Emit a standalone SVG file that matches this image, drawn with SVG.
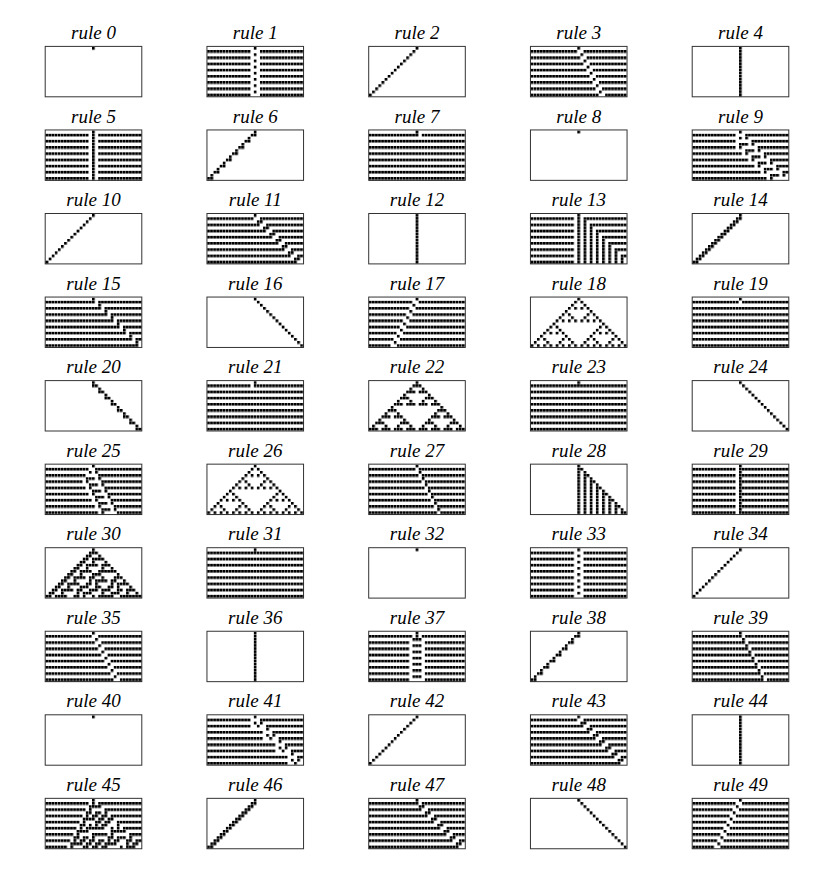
<svg xmlns="http://www.w3.org/2000/svg" width="834" height="869" viewBox="0 0 834 869">
<style>
.lbl{font-family:"Liberation Serif","Times New Roman",serif;font-style:italic;font-size:19px;text-anchor:middle;fill:#000}
.frame{fill:none;stroke:#333;stroke-width:1}
.cells{fill:url(#cell)}
</style>
<defs>
<pattern id="cell" width="1" height="1" patternUnits="userSpaceOnUse"><rect width="0.88" height="0.88" fill="#000"/></pattern>
<path id="p0" class="cells" d="M15 0h1v1h-1z"/>
<path id="p1" class="cells" d="M15 0h1v1h-1zM0 1h14v1h-14zM17 1h14v1h-14zM15 2h1v1h-1zM0 3h14v1h-14zM17 3h14v1h-14zM15 4h1v1h-1zM0 5h14v1h-14zM17 5h14v1h-14zM15 6h1v1h-1zM0 7h14v1h-14zM17 7h14v1h-14zM15 8h1v1h-1zM0 9h14v1h-14zM17 9h14v1h-14zM15 10h1v1h-1zM0 11h14v1h-14zM17 11h14v1h-14zM15 12h1v1h-1zM0 13h14v1h-14zM17 13h14v1h-14zM15 14h1v1h-1zM0 15h14v1h-14zM17 15h14v1h-14z"/>
<path id="p2" class="cells" d="M15 0h1v1h-1zM14 1h1v1h-1zM13 2h1v1h-1zM12 3h1v1h-1zM11 4h1v1h-1zM10 5h1v1h-1zM9 6h1v1h-1zM8 7h1v1h-1zM7 8h1v1h-1zM6 9h1v1h-1zM5 10h1v1h-1zM4 11h1v1h-1zM3 12h1v1h-1zM2 13h1v1h-1zM1 14h1v1h-1zM0 15h1v1h-1z"/>
<path id="p3" class="cells" d="M15 0h1v1h-1zM0 1h15v1h-15zM17 1h14v1h-14zM16 2h1v1h-1zM0 3h16v1h-16zM18 3h13v1h-13zM17 4h1v1h-1zM0 5h17v1h-17zM19 5h12v1h-12zM18 6h1v1h-1zM0 7h18v1h-18zM20 7h11v1h-11zM19 8h1v1h-1zM0 9h19v1h-19zM21 9h10v1h-10zM20 10h1v1h-1zM0 11h20v1h-20zM22 11h9v1h-9zM21 12h1v1h-1zM0 13h21v1h-21zM23 13h8v1h-8zM22 14h1v1h-1zM0 15h22v1h-22zM24 15h7v1h-7z"/>
<path id="p4" class="cells" d="M15 0h1v16h-1z"/>
<path id="p5" class="cells" d="M15 0h1v16h-1zM0 1h14v1h-14zM17 1h14v1h-14zM0 3h14v1h-14zM17 3h14v1h-14zM0 5h14v1h-14zM17 5h14v1h-14zM0 7h14v1h-14zM17 7h14v1h-14zM0 9h14v1h-14zM17 9h14v1h-14zM0 11h14v1h-14zM17 11h14v1h-14zM0 13h14v1h-14zM17 13h14v1h-14zM0 15h14v1h-14zM17 15h14v1h-14z"/>
<path id="p6" class="cells" d="M15 0h1v1h-1zM14 1h2v1h-2zM13 2h1v1h-1zM12 3h2v1h-2zM11 4h1v1h-1zM10 5h2v1h-2zM9 6h1v1h-1zM8 7h2v1h-2zM7 8h1v1h-1zM6 9h2v1h-2zM5 10h1v1h-1zM4 11h2v1h-2zM3 12h1v1h-1zM2 13h2v1h-2zM1 14h1v1h-1zM0 15h2v1h-2z"/>
<path id="p7" class="cells" d="M15 0h1v1h-1zM0 1h16v1h-16zM17 1h14v1h-14zM0 3h31v1h-31zM0 5h31v1h-31zM0 7h31v1h-31zM0 9h31v1h-31zM0 11h31v1h-31zM0 13h31v1h-31zM0 15h31v1h-31z"/>
<path id="p9" class="cells" d="M15 0h1v1h-1zM0 1h14v1h-14zM17 1h14v1h-14zM15 2h1v1h-1zM17 2h1v1h-1zM0 3h14v1h-14zM19 3h12v1h-12zM15 4h3v1h-3zM19 4h1v1h-1zM0 5h14v1h-14zM15 5h1v1h-1zM21 5h10v1h-10zM17 6h3v1h-3zM21 6h1v1h-1zM0 7h16v1h-16zM17 7h1v1h-1zM23 7h8v1h-8zM19 8h3v1h-3zM23 8h1v1h-1zM0 9h18v1h-18zM19 9h1v1h-1zM25 9h6v1h-6zM21 10h3v1h-3zM25 10h1v1h-1zM0 11h20v1h-20zM21 11h1v1h-1zM27 11h4v1h-4zM23 12h3v1h-3zM27 12h1v1h-1zM0 13h22v1h-22zM23 13h1v1h-1zM29 13h2v1h-2zM25 14h3v1h-3zM29 14h1v1h-1zM0 15h24v1h-24zM25 15h1v1h-1z"/>
<path id="p11" class="cells" d="M15 0h1v1h-1zM0 1h15v1h-15zM17 1h14v1h-14zM16 2h2v1h-2zM0 3h17v1h-17zM19 3h12v1h-12zM18 4h2v1h-2zM0 5h19v1h-19zM21 5h10v1h-10zM20 6h2v1h-2zM0 7h21v1h-21zM23 7h8v1h-8zM22 8h2v1h-2zM0 9h23v1h-23zM25 9h6v1h-6zM24 10h2v1h-2zM0 11h25v1h-25zM27 11h4v1h-4zM26 12h2v1h-2zM0 13h27v1h-27zM29 13h2v1h-2zM28 14h2v1h-2zM0 15h29v1h-29z"/>
<path id="p13" class="cells" d="M15 0h1v16h-1zM17 1h1v15h-1zM19 3h1v13h-1zM21 5h1v11h-1zM23 7h1v9h-1zM25 9h1v7h-1zM27 11h1v5h-1zM29 13h1v3h-1zM0 1h14v1h-14zM17 1h14v1h-14zM0 3h14v1h-14zM19 3h12v1h-12zM0 5h14v1h-14zM21 5h10v1h-10zM0 7h14v1h-14zM23 7h8v1h-8zM0 9h14v1h-14zM25 9h6v1h-6zM0 11h14v1h-14zM27 11h4v1h-4zM0 13h14v1h-14zM29 13h2v1h-2zM0 15h14v1h-14z"/>
<path id="p14" class="cells" d="M15 0h1v1h-1zM14 1h2v1h-2zM13 2h2v1h-2zM12 3h2v1h-2zM11 4h2v1h-2zM10 5h2v1h-2zM9 6h2v1h-2zM8 7h2v1h-2zM7 8h2v1h-2zM6 9h2v1h-2zM5 10h2v1h-2zM4 11h2v1h-2zM3 12h2v1h-2zM2 13h2v1h-2zM1 14h2v1h-2zM0 15h2v1h-2z"/>
<path id="p15" class="cells" d="M15 0h1v1h-1zM0 1h16v1h-16zM17 1h14v1h-14zM17 2h1v1h-1zM0 3h18v1h-18zM19 3h12v1h-12zM19 4h1v1h-1zM0 5h20v1h-20zM21 5h10v1h-10zM21 6h1v1h-1zM0 7h22v1h-22zM23 7h8v1h-8zM23 8h1v1h-1zM0 9h24v1h-24zM25 9h6v1h-6zM25 10h1v1h-1zM0 11h26v1h-26zM27 11h4v1h-4zM27 12h1v1h-1zM0 13h28v1h-28zM29 13h2v1h-2zM29 14h1v1h-1zM0 15h30v1h-30z"/>
<path id="p16" class="cells" d="M15 0h1v1h-1zM16 1h1v1h-1zM17 2h1v1h-1zM18 3h1v1h-1zM19 4h1v1h-1zM20 5h1v1h-1zM21 6h1v1h-1zM22 7h1v1h-1zM23 8h1v1h-1zM24 9h1v1h-1zM25 10h1v1h-1zM26 11h1v1h-1zM27 12h1v1h-1zM28 13h1v1h-1zM29 14h1v1h-1zM30 15h1v1h-1z"/>
<path id="p17" class="cells" d="M15 0h1v1h-1zM0 1h14v1h-14zM16 1h15v1h-15zM14 2h1v1h-1zM0 3h13v1h-13zM15 3h16v1h-16zM13 4h1v1h-1zM0 5h12v1h-12zM14 5h17v1h-17zM12 6h1v1h-1zM0 7h11v1h-11zM13 7h18v1h-18zM11 8h1v1h-1zM0 9h10v1h-10zM12 9h19v1h-19zM10 10h1v1h-1zM0 11h9v1h-9zM11 11h20v1h-20zM9 12h1v1h-1zM0 13h8v1h-8zM10 13h21v1h-21zM8 14h1v1h-1zM0 15h7v1h-7zM9 15h22v1h-22z"/>
<path id="p18" class="cells" d="M15 0h1v1h-1zM14 1h1v1h-1zM16 1h1v1h-1zM13 2h1v1h-1zM17 2h1v1h-1zM12 3h1v1h-1zM14 3h1v1h-1zM16 3h1v1h-1zM18 3h1v1h-1zM11 4h1v1h-1zM19 4h1v1h-1zM10 5h1v1h-1zM12 5h1v1h-1zM18 5h1v1h-1zM20 5h1v1h-1zM9 6h1v1h-1zM13 6h1v1h-1zM17 6h1v1h-1zM21 6h1v1h-1zM8 7h1v1h-1zM10 7h1v1h-1zM12 7h1v1h-1zM14 7h1v1h-1zM16 7h1v1h-1zM18 7h1v1h-1zM20 7h1v1h-1zM22 7h1v1h-1zM7 8h1v1h-1zM23 8h1v1h-1zM6 9h1v1h-1zM8 9h1v1h-1zM22 9h1v1h-1zM24 9h1v1h-1zM5 10h1v1h-1zM9 10h1v1h-1zM21 10h1v1h-1zM25 10h1v1h-1zM4 11h1v1h-1zM6 11h1v1h-1zM8 11h1v1h-1zM10 11h1v1h-1zM20 11h1v1h-1zM22 11h1v1h-1zM24 11h1v1h-1zM26 11h1v1h-1zM3 12h1v1h-1zM11 12h1v1h-1zM19 12h1v1h-1zM27 12h1v1h-1zM2 13h1v1h-1zM4 13h1v1h-1zM10 13h1v1h-1zM12 13h1v1h-1zM18 13h1v1h-1zM20 13h1v1h-1zM26 13h1v1h-1zM28 13h1v1h-1zM1 14h1v1h-1zM5 14h1v1h-1zM9 14h1v1h-1zM13 14h1v1h-1zM17 14h1v1h-1zM21 14h1v1h-1zM25 14h1v1h-1zM29 14h1v1h-1zM0 15h1v1h-1zM2 15h1v1h-1zM4 15h1v1h-1zM6 15h1v1h-1zM8 15h1v1h-1zM10 15h1v1h-1zM12 15h1v1h-1zM14 15h1v1h-1zM16 15h1v1h-1zM18 15h1v1h-1zM20 15h1v1h-1zM22 15h1v1h-1zM24 15h1v1h-1zM26 15h1v1h-1zM28 15h1v1h-1zM30 15h1v1h-1z"/>
<path id="p19" class="cells" d="M15 0h1v1h-1zM0 1h15v1h-15zM16 1h15v1h-15zM0 3h31v1h-31zM0 5h31v1h-31zM0 7h31v1h-31zM0 9h31v1h-31zM0 11h31v1h-31zM0 13h31v1h-31zM0 15h31v1h-31z"/>
<path id="p20" class="cells" d="M15 0h1v1h-1zM15 1h2v1h-2zM17 2h1v1h-1zM17 3h2v1h-2zM19 4h1v1h-1zM19 5h2v1h-2zM21 6h1v1h-1zM21 7h2v1h-2zM23 8h1v1h-1zM23 9h2v1h-2zM25 10h1v1h-1zM25 11h2v1h-2zM27 12h1v1h-1zM27 13h2v1h-2zM29 14h1v1h-1zM29 15h2v1h-2z"/>
<path id="p21" class="cells" d="M15 0h1v1h-1zM0 1h14v1h-14zM15 1h16v1h-16zM0 3h31v1h-31zM0 5h31v1h-31zM0 7h31v1h-31zM0 9h31v1h-31zM0 11h31v1h-31zM0 13h31v1h-31zM0 15h31v1h-31z"/>
<path id="p22" class="cells" d="M15 0h1v1h-1zM14 1h3v1h-3zM13 2h1v1h-1zM17 2h1v1h-1zM12 3h3v1h-3zM16 3h3v1h-3zM11 4h1v1h-1zM19 4h1v1h-1zM10 5h3v1h-3zM18 5h3v1h-3zM9 6h1v1h-1zM13 6h1v1h-1zM17 6h1v1h-1zM21 6h1v1h-1zM8 7h3v1h-3zM12 7h3v1h-3zM16 7h3v1h-3zM20 7h3v1h-3zM7 8h1v1h-1zM23 8h1v1h-1zM6 9h3v1h-3zM22 9h3v1h-3zM5 10h1v1h-1zM9 10h1v1h-1zM21 10h1v1h-1zM25 10h1v1h-1zM4 11h3v1h-3zM8 11h3v1h-3zM20 11h3v1h-3zM24 11h3v1h-3zM3 12h1v1h-1zM11 12h1v1h-1zM19 12h1v1h-1zM27 12h1v1h-1zM2 13h3v1h-3zM10 13h3v1h-3zM18 13h3v1h-3zM26 13h3v1h-3zM1 14h1v1h-1zM5 14h1v1h-1zM9 14h1v1h-1zM13 14h1v1h-1zM17 14h1v1h-1zM21 14h1v1h-1zM25 14h1v1h-1zM29 14h1v1h-1zM0 15h3v1h-3zM4 15h3v1h-3zM8 15h3v1h-3zM12 15h3v1h-3zM16 15h3v1h-3zM20 15h3v1h-3zM24 15h3v1h-3zM28 15h3v1h-3z"/>
<path id="p23" class="cells" d="M15 0h1v1h-1zM0 1h31v1h-31zM0 3h31v1h-31zM0 5h31v1h-31zM0 7h31v1h-31zM0 9h31v1h-31zM0 11h31v1h-31zM0 13h31v1h-31zM0 15h31v1h-31z"/>
<path id="p25" class="cells" d="M15 0h1v1h-1zM0 1h14v1h-14zM16 1h15v1h-15zM14 2h1v1h-1zM16 2h1v1h-1zM0 3h13v1h-13zM17 3h14v1h-14zM13 4h3v1h-3zM17 4h1v1h-1zM0 5h12v1h-12zM13 5h1v1h-1zM18 5h13v1h-13zM14 6h3v1h-3zM18 6h1v1h-1zM0 7h13v1h-13zM14 7h1v1h-1zM19 7h12v1h-12zM15 8h3v1h-3zM19 8h1v1h-1zM0 9h14v1h-14zM15 9h1v1h-1zM20 9h11v1h-11zM16 10h3v1h-3zM20 10h1v1h-1zM0 11h15v1h-15zM16 11h1v1h-1zM21 11h10v1h-10zM17 12h3v1h-3zM21 12h1v1h-1zM0 13h16v1h-16zM17 13h1v1h-1zM22 13h9v1h-9zM18 14h3v1h-3zM22 14h1v1h-1zM0 15h17v1h-17zM18 15h1v1h-1zM23 15h8v1h-8z"/>
<path id="p27" class="cells" d="M15 0h1v1h-1zM0 1h15v1h-15zM16 1h15v1h-15zM16 2h1v1h-1zM0 3h16v1h-16zM17 3h14v1h-14zM17 4h1v1h-1zM0 5h17v1h-17zM18 5h13v1h-13zM18 6h1v1h-1zM0 7h18v1h-18zM19 7h12v1h-12zM19 8h1v1h-1zM0 9h19v1h-19zM20 9h11v1h-11zM20 10h1v1h-1zM0 11h20v1h-20zM21 11h10v1h-10zM21 12h1v1h-1zM0 13h21v1h-21zM22 13h9v1h-9zM22 14h1v1h-1zM0 15h22v1h-22zM23 15h8v1h-8z"/>
<path id="p28" class="cells" d="M15 0h1v16h-1zM17 2h1v14h-1zM19 4h1v12h-1zM21 6h1v10h-1zM23 8h1v8h-1zM25 10h1v6h-1zM27 12h1v4h-1zM29 14h1v2h-1zM16 1h1v1h-1zM18 3h1v1h-1zM20 5h1v1h-1zM22 7h1v1h-1zM24 9h1v1h-1zM26 11h1v1h-1zM28 13h1v1h-1zM30 15h1v1h-1z"/>
<path id="p29" class="cells" d="M15 0h1v16h-1zM0 1h14v1h-14zM16 1h15v1h-15zM0 3h14v1h-14zM16 3h15v1h-15zM0 5h14v1h-14zM16 5h15v1h-15zM0 7h14v1h-14zM16 7h15v1h-15zM0 9h14v1h-14zM16 9h15v1h-15zM0 11h14v1h-14zM16 11h15v1h-15zM0 13h14v1h-14zM16 13h15v1h-15zM0 15h14v1h-14zM16 15h15v1h-15z"/>
<path id="p30" class="cells" d="M15 0h1v1h-1zM14 1h3v1h-3zM13 2h2v1h-2zM17 2h1v1h-1zM12 3h2v1h-2zM15 3h4v1h-4zM11 4h2v1h-2zM15 4h1v1h-1zM19 4h1v1h-1zM10 5h2v1h-2zM13 5h4v1h-4zM18 5h3v1h-3zM9 6h2v1h-2zM13 6h1v1h-1zM18 6h1v1h-1zM21 6h1v1h-1zM8 7h2v1h-2zM11 7h4v1h-4zM17 7h6v1h-6zM7 8h2v1h-2zM11 8h1v1h-1zM15 8h3v1h-3zM23 8h1v1h-1zM6 9h2v1h-2zM9 9h4v1h-4zM14 9h2v1h-2zM18 9h1v1h-1zM22 9h3v1h-3zM5 10h2v1h-2zM9 10h1v1h-1zM14 10h1v1h-1zM16 10h4v1h-4zM21 10h2v1h-2zM25 10h1v1h-1zM4 11h2v1h-2zM7 11h4v1h-4zM13 11h2v1h-2zM16 11h1v1h-1zM21 11h1v1h-1zM23 11h4v1h-4zM3 12h2v1h-2zM7 12h1v1h-1zM11 12h3v1h-3zM16 12h2v1h-2zM20 12h2v1h-2zM23 12h1v1h-1zM27 12h1v1h-1zM2 13h2v1h-2zM5 13h4v1h-4zM10 13h2v1h-2zM14 13h3v1h-3zM18 13h3v1h-3zM23 13h2v1h-2zM26 13h3v1h-3zM1 14h2v1h-2zM5 14h1v1h-1zM10 14h1v1h-1zM12 14h3v1h-3zM18 14h1v1h-1zM21 14h3v1h-3zM26 14h1v1h-1zM29 14h1v1h-1zM0 15h2v1h-2zM3 15h4v1h-4zM9 15h2v1h-2zM12 15h1v1h-1zM15 15h1v1h-1zM17 15h5v1h-5zM24 15h7v1h-7z"/>
<path id="p37" class="cells" d="M15 0h1v1h-1zM0 1h14v1h-14zM15 1h1v1h-1zM17 1h14v1h-14zM14 2h3v1h-3zM0 3h13v1h-13zM18 3h13v1h-13zM14 4h3v1h-3zM0 5h13v1h-13zM18 5h13v1h-13zM14 6h3v1h-3zM0 7h13v1h-13zM18 7h13v1h-13zM14 8h3v1h-3zM0 9h13v1h-13zM18 9h13v1h-13zM14 10h3v1h-3zM0 11h13v1h-13zM18 11h13v1h-13zM14 12h3v1h-3zM0 13h13v1h-13zM18 13h13v1h-13zM14 14h3v1h-3zM0 15h13v1h-13zM18 15h13v1h-13z"/>
<path id="p39" class="cells" d="M15 0h1v1h-1zM0 1h16v1h-16zM17 1h14v1h-14zM16 2h1v1h-1zM0 3h17v1h-17zM18 3h13v1h-13zM17 4h1v1h-1zM0 5h18v1h-18zM19 5h12v1h-12zM18 6h1v1h-1zM0 7h19v1h-19zM20 7h11v1h-11zM19 8h1v1h-1zM0 9h20v1h-20zM21 9h10v1h-10zM20 10h1v1h-1zM0 11h21v1h-21zM22 11h9v1h-9zM21 12h1v1h-1zM0 13h22v1h-22zM23 13h8v1h-8zM22 14h1v1h-1zM0 15h23v1h-23zM24 15h7v1h-7z"/>
<path id="p41" class="cells" d="M15 0h1v1h-1zM0 1h14v1h-14zM17 1h14v1h-14zM15 2h1v1h-1zM17 2h1v1h-1zM0 3h14v1h-14zM16 3h1v1h-1zM19 3h12v1h-12zM19 4h1v1h-1zM0 5h18v1h-18zM21 5h10v1h-10zM19 6h1v1h-1zM21 6h1v1h-1zM0 7h18v1h-18zM20 7h1v1h-1zM23 7h8v1h-8zM23 8h1v1h-1zM0 9h22v1h-22zM25 9h6v1h-6zM23 10h1v1h-1zM25 10h1v1h-1zM0 11h22v1h-22zM24 11h1v1h-1zM27 11h4v1h-4zM27 12h1v1h-1zM0 13h26v1h-26zM29 13h2v1h-2zM27 14h1v1h-1zM29 14h1v1h-1zM0 15h26v1h-26zM28 15h1v1h-1z"/>
<path id="p45" class="cells" d="M15 0h1v1h-1zM0 1h14v1h-14zM15 1h1v1h-1zM17 1h14v1h-14zM14 2h4v1h-4zM0 3h13v1h-13zM14 3h1v1h-1zM19 3h12v1h-12zM13 4h2v1h-2zM16 4h2v1h-2zM19 4h1v1h-1zM0 5h12v1h-12zM13 5h1v1h-1zM15 5h2v1h-2zM18 5h2v1h-2zM21 5h10v1h-10zM12 6h4v1h-4zM17 6h2v1h-2zM20 6h2v1h-2zM0 7h11v1h-11zM12 7h1v1h-1zM16 7h2v1h-2zM19 7h2v1h-2zM23 7h8v1h-8zM11 8h2v1h-2zM14 8h1v1h-1zM16 8h1v1h-1zM18 8h2v1h-2zM23 8h1v1h-1zM0 9h10v1h-10zM11 9h1v1h-1zM13 9h6v1h-6zM21 9h1v1h-1zM23 9h1v1h-1zM25 9h6v1h-6zM10 10h4v1h-4zM21 10h5v1h-5zM0 11h9v1h-9zM10 11h1v1h-1zM15 11h5v1h-5zM21 11h1v1h-1zM27 11h4v1h-4zM9 12h2v1h-2zM12 12h2v1h-2zM15 12h1v1h-1zM20 12h2v1h-2zM23 12h3v1h-3zM27 12h1v1h-1zM0 13h8v1h-8zM9 13h1v1h-1zM11 13h2v1h-2zM14 13h2v1h-2zM17 13h2v1h-2zM20 13h1v1h-1zM22 13h2v1h-2zM26 13h2v1h-2zM29 13h2v1h-2zM8 14h4v1h-4zM13 14h2v1h-2zM16 14h2v1h-2zM19 14h4v1h-4zM26 14h1v1h-1zM28 14h2v1h-2zM0 15h7v1h-7zM8 15h1v1h-1zM12 15h2v1h-2zM15 15h2v1h-2zM18 15h2v1h-2zM24 15h1v1h-1zM26 15h3v1h-3z"/>
<path id="p47" class="cells" d="M15 0h1v1h-1zM0 1h16v1h-16zM17 1h14v1h-14zM16 2h2v1h-2zM0 3h17v1h-17zM19 3h12v1h-12zM18 4h2v1h-2zM0 5h19v1h-19zM21 5h10v1h-10zM20 6h2v1h-2zM0 7h21v1h-21zM23 7h8v1h-8zM22 8h2v1h-2zM0 9h23v1h-23zM25 9h6v1h-6zM24 10h2v1h-2zM0 11h25v1h-25zM27 11h4v1h-4zM26 12h2v1h-2zM0 13h27v1h-27zM29 13h2v1h-2zM28 14h2v1h-2zM0 15h29v1h-29z"/>
<rect id="fr" class="frame" x="-0.3" y="-0.6" width="96.6" height="50.4"/>
</defs>
<g id="connectors"/>
<g id="rule-0" transform="translate(45.5,47)"><text class="lbl" x="48" y="-8">rule 0</text><use href="#fr"/><use href="#p0" transform="scale(3.1)"/></g>
<g id="rule-1" transform="translate(207.25,47)"><text class="lbl" x="48" y="-8">rule 1</text><use href="#fr"/><use href="#p1" transform="scale(3.1)"/></g>
<g id="rule-2" transform="translate(369,47)"><text class="lbl" x="48" y="-8">rule 2</text><use href="#fr"/><use href="#p2" transform="scale(3.1)"/></g>
<g id="rule-3" transform="translate(530.75,47)"><text class="lbl" x="48" y="-8">rule 3</text><use href="#fr"/><use href="#p3" transform="scale(3.1)"/></g>
<g id="rule-4" transform="translate(692.5,47)"><text class="lbl" x="48" y="-8">rule 4</text><use href="#fr"/><use href="#p4" transform="scale(3.1)"/></g>
<g id="rule-5" transform="translate(45.5,130.55)"><text class="lbl" x="48" y="-8">rule 5</text><use href="#fr"/><use href="#p5" transform="scale(3.1)"/></g>
<g id="rule-6" transform="translate(207.25,130.55)"><text class="lbl" x="48" y="-8">rule 6</text><use href="#fr"/><use href="#p6" transform="scale(3.1)"/></g>
<g id="rule-7" transform="translate(369,130.55)"><text class="lbl" x="48" y="-8">rule 7</text><use href="#fr"/><use href="#p7" transform="scale(3.1)"/></g>
<g id="rule-8" transform="translate(530.75,130.55)"><text class="lbl" x="48" y="-8">rule 8</text><use href="#fr"/><use href="#p0" transform="scale(3.1)"/></g>
<g id="rule-9" transform="translate(692.5,130.55)"><text class="lbl" x="48" y="-8">rule 9</text><use href="#fr"/><use href="#p9" transform="scale(3.1)"/></g>
<g id="rule-10" transform="translate(45.5,214.1)"><text class="lbl" x="48" y="-8">rule 10</text><use href="#fr"/><use href="#p2" transform="scale(3.1)"/></g>
<g id="rule-11" transform="translate(207.25,214.1)"><text class="lbl" x="48" y="-8">rule 11</text><use href="#fr"/><use href="#p11" transform="scale(3.1)"/></g>
<g id="rule-12" transform="translate(369,214.1)"><text class="lbl" x="48" y="-8">rule 12</text><use href="#fr"/><use href="#p4" transform="scale(3.1)"/></g>
<g id="rule-13" transform="translate(530.75,214.1)"><text class="lbl" x="48" y="-8">rule 13</text><use href="#fr"/><use href="#p13" transform="scale(3.1)"/></g>
<g id="rule-14" transform="translate(692.5,214.1)"><text class="lbl" x="48" y="-8">rule 14</text><use href="#fr"/><use href="#p14" transform="scale(3.1)"/></g>
<g id="rule-15" transform="translate(45.5,297.65)"><text class="lbl" x="48" y="-8">rule 15</text><use href="#fr"/><use href="#p15" transform="scale(3.1)"/></g>
<g id="rule-16" transform="translate(207.25,297.65)"><text class="lbl" x="48" y="-8">rule 16</text><use href="#fr"/><use href="#p16" transform="scale(3.1)"/></g>
<g id="rule-17" transform="translate(369,297.65)"><text class="lbl" x="48" y="-8">rule 17</text><use href="#fr"/><use href="#p17" transform="scale(3.1)"/></g>
<g id="rule-18" transform="translate(530.75,297.65)"><text class="lbl" x="48" y="-8">rule 18</text><use href="#fr"/><use href="#p18" transform="scale(3.1)"/></g>
<g id="rule-19" transform="translate(692.5,297.65)"><text class="lbl" x="48" y="-8">rule 19</text><use href="#fr"/><use href="#p19" transform="scale(3.1)"/></g>
<g id="rule-20" transform="translate(45.5,381.2)"><text class="lbl" x="48" y="-8">rule 20</text><use href="#fr"/><use href="#p20" transform="scale(3.1)"/></g>
<g id="rule-21" transform="translate(207.25,381.2)"><text class="lbl" x="48" y="-8">rule 21</text><use href="#fr"/><use href="#p21" transform="scale(3.1)"/></g>
<g id="rule-22" transform="translate(369,381.2)"><text class="lbl" x="48" y="-8">rule 22</text><use href="#fr"/><use href="#p22" transform="scale(3.1)"/></g>
<g id="rule-23" transform="translate(530.75,381.2)"><text class="lbl" x="48" y="-8">rule 23</text><use href="#fr"/><use href="#p23" transform="scale(3.1)"/></g>
<g id="rule-24" transform="translate(692.5,381.2)"><text class="lbl" x="48" y="-8">rule 24</text><use href="#fr"/><use href="#p16" transform="scale(3.1)"/></g>
<g id="rule-25" transform="translate(45.5,464.75)"><text class="lbl" x="48" y="-8">rule 25</text><use href="#fr"/><use href="#p25" transform="scale(3.1)"/></g>
<g id="rule-26" transform="translate(207.25,464.75)"><text class="lbl" x="48" y="-8">rule 26</text><use href="#fr"/><use href="#p18" transform="scale(3.1)"/></g>
<g id="rule-27" transform="translate(369,464.75)"><text class="lbl" x="48" y="-8">rule 27</text><use href="#fr"/><use href="#p27" transform="scale(3.1)"/></g>
<g id="rule-28" transform="translate(530.75,464.75)"><text class="lbl" x="48" y="-8">rule 28</text><use href="#fr"/><use href="#p28" transform="scale(3.1)"/></g>
<g id="rule-29" transform="translate(692.5,464.75)"><text class="lbl" x="48" y="-8">rule 29</text><use href="#fr"/><use href="#p29" transform="scale(3.1)"/></g>
<g id="rule-30" transform="translate(45.5,548.3)"><text class="lbl" x="48" y="-8">rule 30</text><use href="#fr"/><use href="#p30" transform="scale(3.1)"/></g>
<g id="rule-31" transform="translate(207.25,548.3)"><text class="lbl" x="48" y="-8">rule 31</text><use href="#fr"/><use href="#p23" transform="scale(3.1)"/></g>
<g id="rule-32" transform="translate(369,548.3)"><text class="lbl" x="48" y="-8">rule 32</text><use href="#fr"/><use href="#p0" transform="scale(3.1)"/></g>
<g id="rule-33" transform="translate(530.75,548.3)"><text class="lbl" x="48" y="-8">rule 33</text><use href="#fr"/><use href="#p1" transform="scale(3.1)"/></g>
<g id="rule-34" transform="translate(692.5,548.3)"><text class="lbl" x="48" y="-8">rule 34</text><use href="#fr"/><use href="#p2" transform="scale(3.1)"/></g>
<g id="rule-35" transform="translate(45.5,631.85)"><text class="lbl" x="48" y="-8">rule 35</text><use href="#fr"/><use href="#p3" transform="scale(3.1)"/></g>
<g id="rule-36" transform="translate(207.25,631.85)"><text class="lbl" x="48" y="-8">rule 36</text><use href="#fr"/><use href="#p4" transform="scale(3.1)"/></g>
<g id="rule-37" transform="translate(369,631.85)"><text class="lbl" x="48" y="-8">rule 37</text><use href="#fr"/><use href="#p37" transform="scale(3.1)"/></g>
<g id="rule-38" transform="translate(530.75,631.85)"><text class="lbl" x="48" y="-8">rule 38</text><use href="#fr"/><use href="#p6" transform="scale(3.1)"/></g>
<g id="rule-39" transform="translate(692.5,631.85)"><text class="lbl" x="48" y="-8">rule 39</text><use href="#fr"/><use href="#p39" transform="scale(3.1)"/></g>
<g id="rule-40" transform="translate(45.5,715.4)"><text class="lbl" x="48" y="-8">rule 40</text><use href="#fr"/><use href="#p0" transform="scale(3.1)"/></g>
<g id="rule-41" transform="translate(207.25,715.4)"><text class="lbl" x="48" y="-8">rule 41</text><use href="#fr"/><use href="#p41" transform="scale(3.1)"/></g>
<g id="rule-42" transform="translate(369,715.4)"><text class="lbl" x="48" y="-8">rule 42</text><use href="#fr"/><use href="#p2" transform="scale(3.1)"/></g>
<g id="rule-43" transform="translate(530.75,715.4)"><text class="lbl" x="48" y="-8">rule 43</text><use href="#fr"/><use href="#p11" transform="scale(3.1)"/></g>
<g id="rule-44" transform="translate(692.5,715.4)"><text class="lbl" x="48" y="-8">rule 44</text><use href="#fr"/><use href="#p4" transform="scale(3.1)"/></g>
<g id="rule-45" transform="translate(45.5,798.95)"><text class="lbl" x="48" y="-8">rule 45</text><use href="#fr"/><use href="#p45" transform="scale(3.1)"/></g>
<g id="rule-46" transform="translate(207.25,798.95)"><text class="lbl" x="48" y="-8">rule 46</text><use href="#fr"/><use href="#p14" transform="scale(3.1)"/></g>
<g id="rule-47" transform="translate(369,798.95)"><text class="lbl" x="48" y="-8">rule 47</text><use href="#fr"/><use href="#p47" transform="scale(3.1)"/></g>
<g id="rule-48" transform="translate(530.75,798.95)"><text class="lbl" x="48" y="-8">rule 48</text><use href="#fr"/><use href="#p16" transform="scale(3.1)"/></g>
<g id="rule-49" transform="translate(692.5,798.95)"><text class="lbl" x="48" y="-8">rule 49</text><use href="#fr"/><use href="#p17" transform="scale(3.1)"/></g>
</svg>
